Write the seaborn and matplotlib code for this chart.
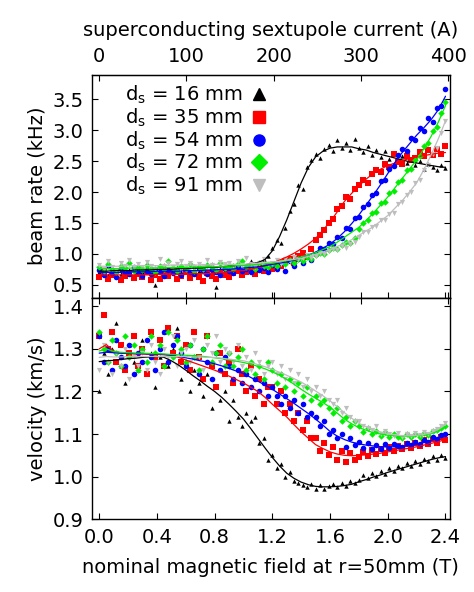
import matplotlib
matplotlib.use("Agg")
import matplotlib.pyplot as plt
import seaborn as sns
from matplotlib.lines import Line2D
from matplotlib.ticker import FormatStrFormatter

# measured points: nominal field (T)
field_T = [0.00, 0.03, 0.06, 0.09, 0.12, 0.15, 0.18, 0.21, 0.24, 0.27,
           0.30, 0.33, 0.36, 0.39, 0.42, 0.45, 0.48, 0.51, 0.54, 0.57,
           0.60, 0.63, 0.66, 0.69, 0.72, 0.75, 0.78, 0.81, 0.84, 0.87,
           0.90, 0.93, 0.96, 0.99, 1.02, 1.05, 1.08, 1.11, 1.14, 1.17,
           1.20, 1.23, 1.26, 1.29, 1.32, 1.35, 1.38, 1.41, 1.44, 1.47,
           1.50, 1.53, 1.56, 1.59, 1.62, 1.65, 1.68, 1.71, 1.74, 1.77,
           1.80, 1.83, 1.86, 1.89, 1.92, 1.95, 1.98, 2.01, 2.04, 2.07,
           2.10, 2.13, 2.16, 2.19, 2.22, 2.25, 2.28, 2.31, 2.34, 2.37,
           2.40]

# beam rate (kHz)
rate_16 = [0.70, 0.76, 0.66, 0.79, 0.72, 0.68, 0.80, 0.74, 0.65, 0.77,
           0.71, 0.78, 0.69, 0.50, 0.75, 0.82, 0.68, 0.73, 0.79, 0.70,
           0.76, 0.67, 0.81, 0.72, 0.78, 0.70, 0.84, 0.46, 0.75, 0.80,
           0.73, 0.82, 0.77, 0.85, 0.79, 0.88, 0.83, 0.80, 0.92, 0.96,
           1.10, 1.22, 1.18, 1.42, 1.70, 1.80, 2.12, 2.05, 2.40, 2.52,
           2.62, 2.55, 2.70, 2.76, 2.66, 2.85, 2.72, 2.80, 2.68, 2.86,
           2.71, 2.64, 2.75, 2.60, 2.68, 2.57, 2.66, 2.54, 2.62, 2.50,
           2.58, 2.47, 2.53, 2.44, 2.50, 2.38, 2.46, 2.41, 2.35, 2.44,
           2.39]
rate_35 = [0.62, 0.70, 0.60, 0.66, 0.72, 0.58, 0.64, 0.69, 0.61, 0.67,
           0.63, 0.71, 0.57, 0.66, 0.60, 0.68, 0.64, 0.72, 0.59, 0.65,
           0.70, 0.61, 0.67, 0.63, 0.56, 0.69, 0.65, 0.60, 0.71, 0.66,
           0.62, 0.69, 0.73, 0.66, 0.71, 0.75, 0.68, 0.77, 0.72, 0.80,
           0.76, 0.84, 0.80, 0.88, 0.92, 0.86, 0.97, 1.02, 0.95, 1.08,
           1.22, 1.30, 1.38, 1.50, 1.56, 1.72, 1.78, 1.92, 1.88, 2.05,
           2.12, 2.20, 2.15, 2.30, 2.36, 2.32, 2.45, 2.40, 2.62, 2.48,
           2.46, 2.58, 2.52, 2.55, 2.64, 2.58, 2.68, 2.60, 2.70, 2.62,
           2.75]
rate_54 = [0.74, 0.66, 0.80, 0.69, 0.63, 0.75, 0.71, 0.67, 0.78, 0.70,
           0.65, 0.73, 0.68, 0.76, 0.70, 0.64, 0.74, 0.69, 0.72, 0.66,
           0.75, 0.70, 0.67, 0.77, 0.72, 0.68, 0.74, 0.71, 0.66, 0.76,
           0.73, 0.69, 0.78, 0.72, 0.75, 0.70, 0.80, 0.74, 0.77, 0.71,
           0.82, 0.76, 0.85, 0.73, 0.88, 0.80, 0.92, 0.86, 0.96, 0.90,
           1.00, 1.09, 1.08, 1.18, 1.16, 1.28, 1.26, 1.42, 1.40, 1.58,
           1.60, 1.76, 1.80, 1.96, 1.98, 2.18, 2.20, 2.38, 2.42, 2.60,
           2.70, 2.66, 2.88, 2.84, 3.04, 2.98, 3.20, 3.14, 3.36, 3.40,
           3.66]
rate_72 = [0.78, 0.72, 0.84, 0.75, 0.70, 0.80, 0.77, 0.86, 0.73, 0.79,
           0.74, 0.82, 0.76, 0.71, 0.80, 0.75, 0.88, 0.77, 0.73, 0.81,
           0.76, 0.84, 0.72, 0.79, 0.75, 0.82, 0.78, 0.74, 0.86, 0.77,
           0.80, 0.76, 0.83, 0.89, 0.78, 0.82, 0.75, 0.86, 0.81, 0.79,
           0.84, 0.80, 0.87, 0.83, 0.90, 0.85, 0.92, 0.88, 0.95, 0.91,
           0.98, 1.02, 1.00, 1.06, 1.10, 1.08, 1.15, 1.20, 1.18, 1.26,
           1.40, 1.50, 1.54, 1.66, 1.68, 1.82, 1.84, 1.98, 2.02, 2.16,
           2.20, 2.35, 2.38, 2.52, 2.58, 2.75, 2.80, 2.98, 3.05, 3.28,
           3.45]
rate_91 = [0.82, 0.76, 0.88, 0.79, 0.74, 0.85, 0.80, 0.90, 0.77, 0.84,
           0.79, 0.87, 0.81, 0.76, 0.92, 0.80, 0.85, 0.78, 0.83, 0.89,
           0.81, 0.86, 0.78, 0.84, 0.80, 0.90, 0.82, 0.77, 0.87, 0.83,
           0.85, 0.80, 0.88, 0.82, 0.93, 0.84, 0.79, 0.86, 0.91, 0.83,
           0.86, 0.90, 0.84, 0.92, 0.88, 0.95, 0.91, 0.94, 0.98, 0.93,
           0.97, 1.02, 0.99, 1.05, 1.08, 1.06, 1.12, 1.10, 1.16, 1.20,
           1.28, 1.36, 1.35, 1.44, 1.45, 1.55, 1.54, 1.64, 1.66, 1.80,
           1.84, 1.96, 2.00, 2.15, 2.20, 2.36, 2.44, 2.62, 2.72, 2.96,
           3.15]

# velocity (km/s)
vel_16 = [1.20, 1.29, 1.24, 1.30, 1.36, 1.26, 1.22, 1.31, 1.27, 1.25,
          1.32, 1.24, 1.29, 1.21, 1.28, 1.34, 1.26, 1.30, 1.35, 1.23,
          1.27, 1.20, 1.25, 1.22, 1.19, 1.24, 1.16, 1.21, 1.18, 1.20,
          1.13, 1.18, 1.14, 1.12, 1.15, 1.13, 1.14, 1.08, 1.09, 1.04,
          1.05, 1.02, 1.03, 1.00, 1.01, 0.99, 0.985, 0.980, 0.975, 0.982,
          0.972, 0.980, 0.970, 0.978, 0.983, 0.975, 0.986, 0.979, 0.990, 0.984,
          0.992, 1.003, 0.996, 1.009, 1.002, 1.014, 1.007, 1.020, 1.012, 1.025,
          1.020, 1.031, 1.026, 1.037, 1.030, 1.042, 1.036, 1.048, 1.040, 1.050,
          1.044]
vel_35 = [1.33, 1.38, 1.30, 1.34, 1.27, 1.31, 1.25, 1.29, 1.33, 1.26,
          1.30, 1.24, 1.34, 1.28, 1.32, 1.26, 1.35, 1.29, 1.33, 1.27,
          1.31, 1.25, 1.34, 1.28, 1.23, 1.33, 1.26, 1.21, 1.29, 1.24,
          1.27, 1.22, 1.30, 1.24, 1.20, 1.26, 1.19, 1.23, 1.17, 1.21,
          1.21, 1.17, 1.20, 1.15, 1.17, 1.13, 1.15, 1.11, 1.13, 1.09,
          1.09, 1.06, 1.08, 1.05, 1.07, 1.04, 1.06, 1.035, 1.055, 1.04,
          1.045, 1.058, 1.048, 1.062, 1.052, 1.066, 1.055, 1.070, 1.060, 1.072,
          1.064, 1.076, 1.068, 1.080, 1.072, 1.085, 1.076, 1.088, 1.080, 1.092,
          1.085]
vel_54 = [1.33, 1.27, 1.30, 1.25, 1.32, 1.28, 1.26, 1.31, 1.24, 1.29,
          1.27, 1.32, 1.28, 1.25, 1.30, 1.34, 1.27, 1.31, 1.33, 1.29,
          1.26, 1.31, 1.28, 1.24, 1.30, 1.27, 1.23, 1.29, 1.25, 1.28,
          1.26, 1.23, 1.25, 1.22, 1.24, 1.21, 1.23, 1.20, 1.22, 1.19,
          1.21, 1.19, 1.17, 1.19, 1.16, 1.18, 1.15, 1.17, 1.14, 1.15,
          1.14, 1.12, 1.13, 1.10, 1.11, 1.09, 1.10, 1.07, 1.09, 1.075,
          1.082, 1.068, 1.078, 1.065, 1.075, 1.066, 1.077, 1.068, 1.076, 1.072,
          1.070, 1.078, 1.074, 1.082, 1.077, 1.086, 1.081, 1.092, 1.088, 1.098,
          1.100]
vel_72 = [1.34, 1.30, 1.27, 1.32, 1.29, 1.26, 1.33, 1.28, 1.31, 1.25,
          1.30, 1.27, 1.33, 1.29, 1.31, 1.26, 1.34, 1.28, 1.32, 1.30,
          1.27, 1.31, 1.28, 1.25, 1.30, 1.33, 1.27, 1.29, 1.31, 1.26,
          1.29, 1.26, 1.28, 1.30, 1.25, 1.27, 1.24, 1.26, 1.23, 1.27,
          1.25, 1.22, 1.24, 1.21, 1.23, 1.20, 1.22, 1.19, 1.21, 1.18,
          1.19, 1.17, 1.18, 1.16, 1.15, 1.16, 1.13, 1.14, 1.12, 1.13,
          1.12, 1.105, 1.115, 1.10, 1.108, 1.095, 1.104, 1.092, 1.100, 1.094,
          1.090, 1.099, 1.093, 1.101, 1.094, 1.103, 1.097, 1.106, 1.110, 1.114,
          1.12]
vel_91 = [1.25, 1.31, 1.27, 1.24, 1.29, 1.26, 1.30, 1.23, 1.28, 1.26,
          1.29, 1.25, 1.31, 1.27, 1.24, 1.30, 1.28, 1.33, 1.26, 1.29,
          1.30, 1.27, 1.32, 1.28, 1.25, 1.31, 1.29, 1.33, 1.27, 1.30,
          1.29, 1.27, 1.31, 1.26, 1.28, 1.25, 1.29, 1.27, 1.24, 1.26,
          1.27, 1.24, 1.26, 1.23, 1.25, 1.22, 1.24, 1.21, 1.23, 1.20,
          1.21, 1.19, 1.20, 1.18, 1.17, 1.18, 1.15, 1.16, 1.14, 1.13,
          1.13, 1.12, 1.115, 1.11, 1.12, 1.10, 1.108, 1.10, 1.096, 1.102,
          1.094, 1.100, 1.095, 1.103, 1.098, 1.104, 1.101, 1.108, 1.112, 1.118,
          1.125]

# fitted curves, sampled every 0.05 T
fit_T = [0.00, 0.05, 0.10, 0.15, 0.20, 0.25, 0.30, 0.35, 0.40, 0.45,
         0.50, 0.55, 0.60, 0.65, 0.70, 0.75, 0.80, 0.85, 0.90, 0.95,
         1.00, 1.05, 1.10, 1.15, 1.20, 1.25, 1.30, 1.35, 1.40, 1.45,
         1.50, 1.55, 1.60, 1.65, 1.70, 1.75, 1.80, 1.85, 1.90, 1.95,
         2.00, 2.05, 2.10, 2.15, 2.20, 2.25, 2.30, 2.35, 2.40]

rate_fit_16 = [0.72, 0.72, 0.73, 0.73, 0.73, 0.74, 0.74, 0.74, 0.75, 0.75,
               0.75, 0.76, 0.76, 0.77, 0.77, 0.78, 0.78, 0.79, 0.80, 0.81,
               0.82, 0.84, 0.86, 0.91, 1.05, 1.28, 1.55, 1.85, 2.15, 2.40,
               2.57, 2.66, 2.71, 2.73, 2.73, 2.73, 2.70, 2.68, 2.64, 2.61,
               2.58, 2.55, 2.52, 2.49, 2.47, 2.45, 2.43, 2.41, 2.40]
rate_fit_35 = [0.66, 0.66, 0.66, 0.66, 0.66, 0.66, 0.66, 0.66, 0.67, 0.67,
               0.67, 0.67, 0.67, 0.68, 0.68, 0.68, 0.69, 0.70, 0.71, 0.72,
               0.73, 0.75, 0.78, 0.81, 0.85, 0.90, 0.95, 1.01, 1.08, 1.16,
               1.25, 1.38, 1.52, 1.68, 1.85, 1.98, 2.10, 2.21, 2.30, 2.37,
               2.43, 2.47, 2.51, 2.54, 2.57, 2.59, 2.61, 2.63, 2.64]
rate_fit_54 = [0.70, 0.70, 0.70, 0.70, 0.71, 0.71, 0.71, 0.71, 0.72, 0.72,
               0.72, 0.72, 0.73, 0.73, 0.73, 0.74, 0.74, 0.75, 0.75, 0.76,
               0.77, 0.78, 0.79, 0.81, 0.83, 0.85, 0.87, 0.90, 0.94, 0.98,
               1.03, 1.09, 1.16, 1.25, 1.36, 1.49, 1.63, 1.79, 1.95, 2.12,
               2.30, 2.48, 2.64, 2.78, 2.92, 3.04, 3.17, 3.33, 3.55]
rate_fit_72 = [0.76, 0.76, 0.76, 0.76, 0.77, 0.77, 0.77, 0.77, 0.77, 0.78,
               0.78, 0.78, 0.78, 0.79, 0.79, 0.79, 0.79, 0.80, 0.80, 0.81,
               0.81, 0.82, 0.83, 0.84, 0.85, 0.87, 0.89, 0.91, 0.95, 0.98,
               1.02, 1.07, 1.12, 1.19, 1.27, 1.35, 1.43, 1.54, 1.66, 1.79,
               1.92, 2.07, 2.22, 2.37, 2.52, 2.70, 2.90, 3.13, 3.40]
rate_fit_91 = [0.80, 0.80, 0.80, 0.80, 0.81, 0.81, 0.81, 0.81, 0.81, 0.81,
               0.82, 0.82, 0.82, 0.82, 0.82, 0.82, 0.83, 0.83, 0.83, 0.83,
               0.83, 0.84, 0.85, 0.86, 0.87, 0.88, 0.90, 0.91, 0.93, 0.96,
               0.99, 1.03, 1.07, 1.12, 1.17, 1.23, 1.30, 1.37, 1.44, 1.53,
               1.62, 1.74, 1.86, 2.00, 2.15, 2.36, 2.60, 2.86, 3.15]

vel_fit_16 = [1.270, 1.272, 1.273, 1.275, 1.277, 1.278, 1.280, 1.281, 1.282, 1.280,
              1.272, 1.262, 1.250, 1.237, 1.225, 1.212, 1.200, 1.186, 1.170, 1.153,
              1.135, 1.113, 1.090, 1.067, 1.045, 1.025, 1.008, 0.996, 0.987, 0.981,
              0.977, 0.976, 0.976, 0.977, 0.979, 0.982, 0.988, 0.993, 0.999, 1.004,
              1.010, 1.015, 1.020, 1.025, 1.030, 1.035, 1.040, 1.044, 1.047]
vel_fit_35 = [1.300, 1.310, 1.295, 1.290, 1.289, 1.288, 1.288, 1.287, 1.287, 1.286,
              1.285, 1.280, 1.274, 1.268, 1.262, 1.256, 1.250, 1.243, 1.236, 1.228,
              1.220, 1.210, 1.200, 1.186, 1.170, 1.155, 1.140, 1.122, 1.105, 1.090,
              1.075, 1.066, 1.058, 1.053, 1.050, 1.049, 1.050, 1.051, 1.053, 1.055,
              1.058, 1.061, 1.064, 1.067, 1.070, 1.074, 1.078, 1.082, 1.087]
vel_fit_54 = [1.290, 1.292, 1.291, 1.290, 1.290, 1.289, 1.289, 1.288, 1.288, 1.287,
              1.285, 1.282, 1.279, 1.276, 1.272, 1.269, 1.265, 1.260, 1.254, 1.248,
              1.242, 1.233, 1.224, 1.215, 1.205, 1.194, 1.183, 1.172, 1.160, 1.148,
              1.135, 1.121, 1.106, 1.095, 1.087, 1.081, 1.077, 1.074, 1.072, 1.070,
              1.070, 1.070, 1.071, 1.073, 1.076, 1.080, 1.085, 1.091, 1.098]
vel_fit_72 = [1.295, 1.300, 1.294, 1.292, 1.291, 1.290, 1.290, 1.289, 1.289, 1.288,
              1.287, 1.286, 1.285, 1.284, 1.283, 1.281, 1.279, 1.277, 1.274, 1.271,
              1.268, 1.264, 1.259, 1.253, 1.246, 1.238, 1.228, 1.217, 1.205, 1.194,
              1.184, 1.174, 1.163, 1.149, 1.135, 1.124, 1.115, 1.109, 1.103, 1.100,
              1.097, 1.096, 1.095, 1.095, 1.096, 1.098, 1.101, 1.108, 1.118]
vel_fit_91 = [1.280, 1.282, 1.281, 1.281, 1.282, 1.282, 1.282, 1.282, 1.282, 1.282,
              1.282, 1.282, 1.282, 1.281, 1.281, 1.280, 1.280, 1.278, 1.276, 1.274,
              1.272, 1.268, 1.263, 1.258, 1.252, 1.245, 1.238, 1.230, 1.222, 1.212,
              1.201, 1.190, 1.178, 1.164, 1.150, 1.137, 1.125, 1.117, 1.110, 1.105,
              1.100, 1.098, 1.096, 1.096, 1.097, 1.099, 1.103, 1.111, 1.122]

distances = ["16", "35", "54", "72", "91"]
rates = [rate_16, rate_35, rate_54, rate_72, rate_91]
vels = [vel_16, vel_35, vel_54, vel_72, vel_91]
rate_fits = [rate_fit_16, rate_fit_35, rate_fit_54, rate_fit_72, rate_fit_91]
vel_fits = [vel_fit_16, vel_fit_35, vel_fit_54, vel_fit_72, vel_fit_91]

colors = ["#000000", "#ff0000", "#0000ff", "#00ee00", "#bebebe"]
markers = ["^", "s", "o", "D", "v"]
point_sizes = [10, 14, 16, 11, 14]

A_PER_T = 400 / 2.42

sns.set_style("ticks")
plt.rcParams["font.family"] = ["DejaVu Sans"]
plt.rcParams["mathtext.default"] = "regular"
plt.rcParams["font.size"] = 14
for key in ["text.color", "axes.labelcolor", "xtick.color", "ytick.color", "axes.edgecolor"]:
    plt.rcParams[key] = "black"

fig = plt.figure(figsize=(4.74, 5.92), dpi=100)
ax_rate = fig.add_axes([0.194, 0.497, 0.755, 0.377])
ax_vel = fig.add_axes([0.194, 0.123, 0.755, 0.374])

for col, mk, sz, rate, vel in zip(colors, markers, point_sizes, rates, vels):
    sns.scatterplot(x=field_T, y=rate, ax=ax_rate, color=col, marker=mk, s=sz,
                    linewidth=0, legend=False, zorder=2)
    sns.scatterplot(x=field_T, y=vel, ax=ax_vel, color=col, marker=mk, s=sz,
                    linewidth=0, legend=False, zorder=2)
for col, rfit, vfit in zip(colors, rate_fits, vel_fits):
    sns.lineplot(x=fit_T, y=rfit, ax=ax_rate, color=col, linewidth=0.9,
                 sort=False, estimator=None, legend=False, zorder=3)
    sns.lineplot(x=fit_T, y=vfit, ax=ax_vel, color=col, linewidth=0.9,
                 sort=False, estimator=None, legend=False, zorder=3)

field_ticks = [0.0, 0.4, 0.8, 1.2, 1.6, 2.0, 2.4]
current_ticks = [0, 100, 200, 300, 400]
to_amp = (lambda t: t * A_PER_T, lambda a: a / A_PER_T)

for ax in (ax_rate, ax_vel):
    ax.set_xlim(-0.05, 2.43)
    ax.set_xticks(field_ticks)
    ax.xaxis.set_major_formatter(FormatStrFormatter("%.1f"))
    ax.yaxis.set_major_formatter(FormatStrFormatter("%.1f"))
    ax.tick_params(direction="in", length=4, width=0.8, right=True, top=False,
                   labelsize=14, pad=6, colors="black")
    for sp in ax.spines.values():
        sp.set_linewidth(1.0)
        sp.set_color("black")

ax_rate.set_ylim(0.29, 3.9)
ax_rate.set_yticks([0.5, 1.0, 1.5, 2.0, 2.5, 3.0, 3.5])
ax_rate.tick_params(labelbottom=False)
ax_rate.set_xlabel("")
ax_rate.set_ylabel("beam rate (kHz)", fontsize=14)

ax_vel.set_ylim(0.9, 1.42)
ax_vel.set_yticks([0.9, 1.0, 1.1, 1.2, 1.3, 1.4])
ax_vel.set_xlabel("nominal magnetic field at r=50mm (T)", fontsize=14, labelpad=8)
ax_vel.set_ylabel("velocity (km/s)", fontsize=14)

# current axis on top, mirrored ticks in between the panels
sec_top = ax_rate.secondary_xaxis("top", functions=to_amp)
sec_top.set_xticks(current_ticks)
sec_top.tick_params(direction="in", length=4, width=0.8, labelsize=14, pad=6, colors="black")
sec_top.set_xlabel("superconducting sextupole current (A)", fontsize=14, labelpad=8)

sec_mid1 = ax_rate.secondary_xaxis("bottom", functions=to_amp)
sec_mid1.set_xticks(current_ticks)
sec_mid1.tick_params(direction="in", length=4, width=0.8, labelbottom=False, colors="black")
sec_mid2 = ax_vel.secondary_xaxis("top", functions=to_amp)
sec_mid2.set_xticks(current_ticks)
sec_mid2.tick_params(direction="in", length=4, width=0.8, labeltop=False, colors="black")

handles = [Line2D([], [], linestyle="none", marker=mk, color=col, markersize=8)
           for mk, col in zip(markers, colors)]
labels = [f"d$_s$ = {d} mm" for d in distances]
ax_rate.legend(handles, labels, loc="upper left", bbox_to_anchor=(0.06, 1.01),
               markerfirst=False, frameon=False, fontsize=14, labelspacing=0.02,
               handletextpad=0.3, handlelength=1.0, borderaxespad=0.2)

fig.savefig("out.png", dpi=100)
plt.close(fig)
